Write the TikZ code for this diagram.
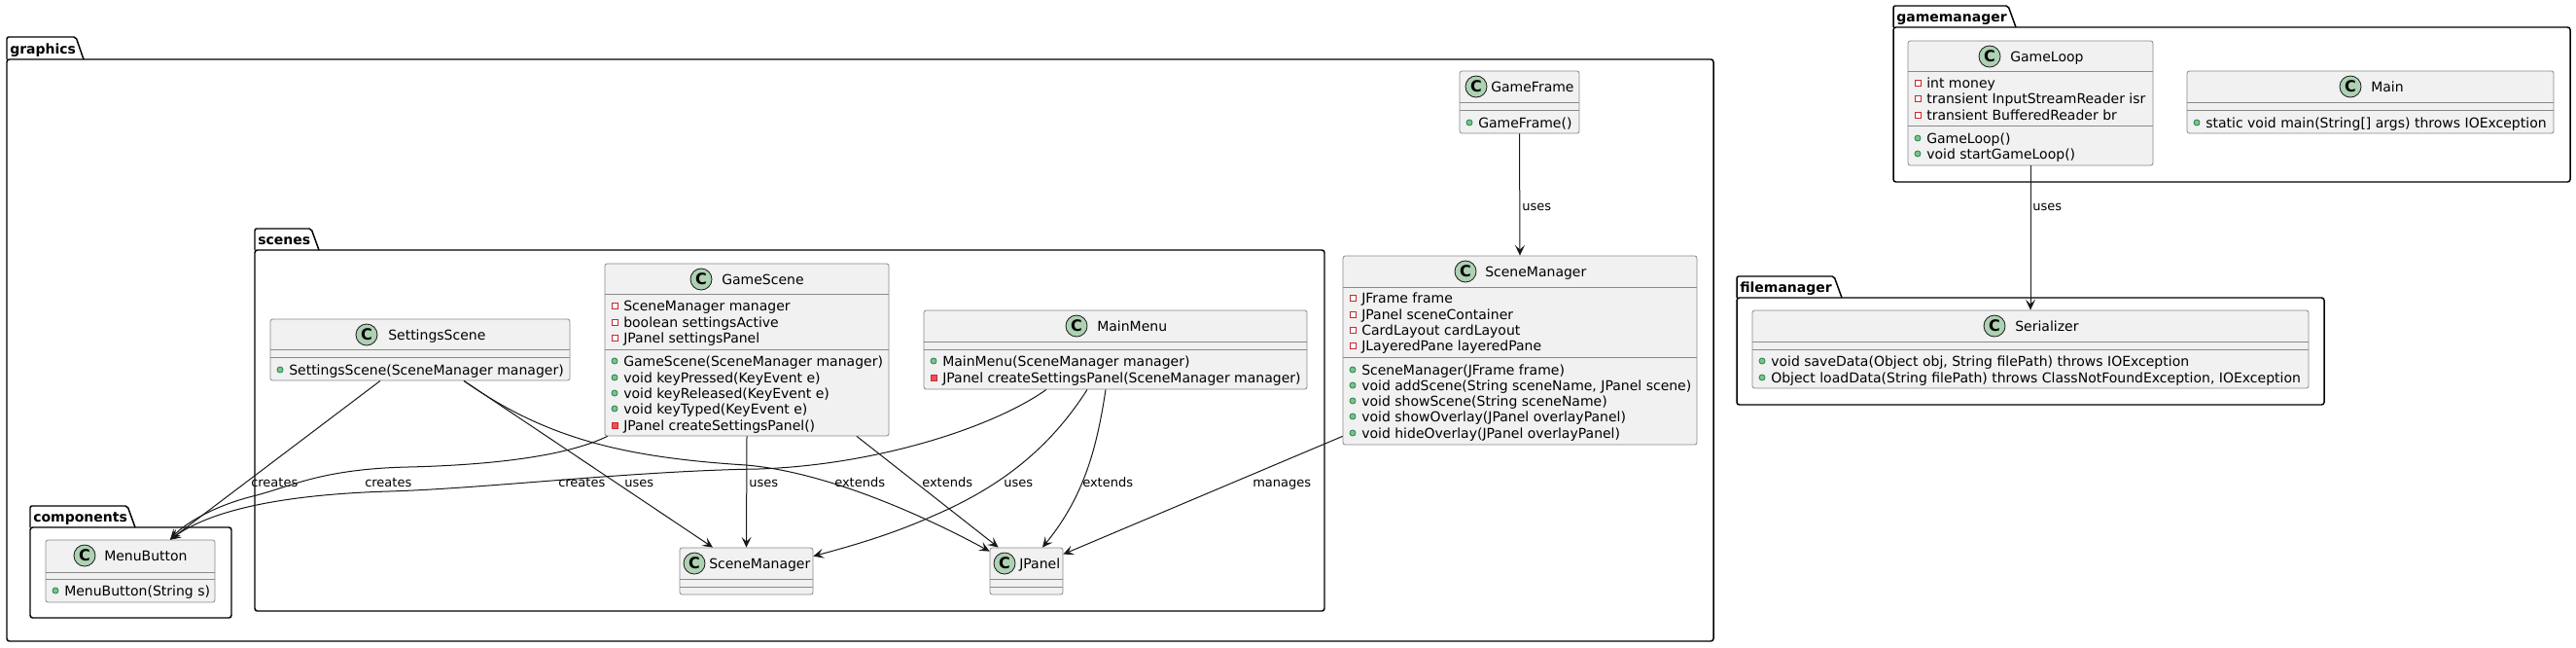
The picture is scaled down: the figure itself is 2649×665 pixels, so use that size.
\documentclass[tikz,border=0pt]{standalone}
\usepackage{fontspec}
\setmainfont{DejaVu Sans}
\usetikzlibrary{arrows.meta,fit}

\definecolor{classfill}{HTML}{F1F1F1}
\definecolor{classline}{HTML}{8A8A8A}
\definecolor{iconfill}{HTML}{ADD1B2}
\definecolor{privline}{HTML}{C82930}
\definecolor{privfill}{HTML}{F24D5C}
\definecolor{publine}{HTML}{038048}
\definecolor{pubfill}{HTML}{84BE84}
\definecolor{edge}{HTML}{181818}

\tikzset{
  classbox/.style={draw=classline, fill=classfill, line width=0.6pt, rounded corners=1.8pt, inner sep=0pt},
  sep/.style={draw=classline, line width=0.6pt},
  cicon/.style={circle, draw=edge, fill=iconfill, line width=0.6pt, inner sep=0pt, minimum size=16.5pt,
    font=\fontsize{12}{12}\selectfont\bfseries},
  title/.style={anchor=base west, inner sep=0pt, font=\fontsize{10.5}{12}\selectfont},
  member/.style={anchor=base west, inner sep=0pt, font=\fontsize{10.5}{12}\selectfont},
  pkgline/.style={draw=black, line width=1.1pt},
  pkglabel/.style={anchor=base west, inner sep=0pt, font=\fontsize{10.5}{12}\selectfont\bfseries},
  dep/.style={draw=edge, line width=0.75pt, -{Stealth[length=8pt,width=7.5pt,inset=3.5pt]}},
  lbl/.style={anchor=base west, inner sep=0pt, font=\fontsize{9.75}{11}\selectfont}
}

% package: name, x0, tab top, tab right, body top, x1, y1
\newcommand{\pkg}[7]{%
  \draw[pkgline, rounded corners=1.5pt] (#2,#5) -- (#2,#3) -- (#4-8,#3) -- (#4,#5);
  \draw[pkgline, rounded corners=2pt] (#2,#5) rectangle (#6,#7);
  \node[pkglabel] (#1) at (#2+3,#5-6) {#1};}

% class: name, title, x0, y0, x1, y1, icon x, title x
\newcommand{\umlclass}[8]{%
  \node[classbox, fit={(#3,#4) (#5,#6)}] (#1) {};
  \node[cicon] (#1-c) at (#7,#4+16) {C};
  \node[title] (#1-t) at (#8,#4+21) {#2};}

% members: name, box left, line centre, text
\newcommand{\privfield}[4]{%
  \draw[privline, line width=0.6pt, fill=white] (#2+7,#3-3) rectangle (#2+13,#3+3);
  \node[member] (#1) at (#2+19,#3+5) {#4};}
\newcommand{\privmethod}[4]{%
  \draw[privline, line width=0.6pt, fill=privfill] (#2+7,#3-3) rectangle (#2+13,#3+3);
  \node[member] (#1) at (#2+19,#3+5) {#4};}
\newcommand{\pubmethod}[4]{%
  \filldraw[draw=publine, fill=pubfill, line width=0.5pt] (#2+10,#3) circle[radius=2.3pt];
  \node[member] (#1) at (#2+19,#3+5) {#4};}

\begin{document}
\begin{tikzpicture}[x=0.75pt, y=-0.75pt]
  \useasboundingbox[fill=white] (0,0) rectangle (2649,665);

  \pkg{graphics}{7}{38}{86}{61}{1762}{659}
  \pkg{scenes}{262}{235}{328}{257}{1362}{628}
  \pkg{components}{31}{520}{139}{542}{238}{635}
  \pkg{gamemanager}{1947}{6}{2073}{28}{2643}{187}
  \pkg{filemanager}{1786}{284}{1894}{306}{2390}{416}

  \umlclass{gameframe}{GameFrame}{1501}{73}{1624}{137}{1518}{1533}
  \draw[sep] (1501,105) -- (1624,105);
  \draw[sep] (1501,113) -- (1624,113);
  \pubmethod{gf-m1}{1501}{126}{GameFrame()}

  \umlclass{scenemanager}{SceneManager}{1381}{263}{1745}{457}{1507}{1527}
  \draw[sep] (1381,295) -- (1745,295);
  \draw[sep] (1381,367) -- (1745,367);
  \privfield{sm-f1}{1381}{306}{JFrame frame}
  \privfield{sm-f2}{1381}{323}{JPanel sceneContainer}
  \privfield{sm-f3}{1381}{339}{CardLayout cardLayout}
  \privfield{sm-f4}{1381}{355}{JLayeredPane layeredPane}
  \pubmethod{sm-m1}{1381}{380}{SceneManager(JFrame frame)}
  \pubmethod{sm-m2}{1381}{396}{void addScene(String sceneName, JPanel scene)}
  \pubmethod{sm-m3}{1381}{412}{void showScene(String sceneName)}
  \pubmethod{sm-m4}{1381}{428}{void showOverlay(JPanel overlayPanel)}
  \pubmethod{sm-m5}{1381}{445}{void hideOverlay(JPanel overlayPanel)}

  \umlclass{settingsscene}{SettingsScene}{278}{328}{586}{391}{377}{399}
  \draw[sep] (278,359) -- (586,359);
  \draw[sep] (278,367) -- (586,367);
  \pubmethod{ss-m1}{278}{380}{SettingsScene(SceneManager manager)}

  \umlclass{gamescene}{GameScene}{622}{271}{914}{448}{721}{742}
  \draw[sep] (622,302) -- (914,302);
  \draw[sep] (622,359) -- (914,359);
  \privfield{gs-f1}{622}{314}{SceneManager manager}
  \privfield{gs-f2}{622}{331}{boolean settingsActive}
  \privfield{gs-f3}{622}{347}{JPanel settingsPanel}
  \pubmethod{gs-m1}{622}{371}{GameScene(SceneManager manager)}
  \pubmethod{gs-m2}{622}{388}{void keyPressed(KeyEvent e)}
  \pubmethod{gs-m3}{622}{404}{void keyReleased(KeyEvent e)}
  \pubmethod{gs-m4}{622}{420}{void keyTyped(KeyEvent e)}
  \privmethod{gs-m5}{622}{437}{JPanel createSettingsPanel()}

  \umlclass{mainmenu}{MainMenu}{950}{319}{1344}{400}{1107}{1128}
  \draw[sep] (950,351) -- (1344,351);
  \draw[sep] (950,359) -- (1344,359);
  \pubmethod{mm-m1}{950}{371}{MainMenu(SceneManager manager)}
  \privmethod{mm-m2}{950}{388}{JPanel createSettingsPanel(SceneManager manager)}

  \umlclass{menubutton}{MenuButton}{47}{555}{221}{619}{87}{107}
  \draw[sep] (47,588) -- (221,588);
  \draw[sep] (47,595) -- (221,595);
  \pubmethod{mb-m1}{47}{607}{MenuButton(String s)}

  \umlclass{scenemanagerref}{SceneManager}{699}{563}{836}{611}{714}{729}
  \draw[sep] (699,595) -- (836,595);
  \draw[sep] (699,603) -- (836,603);

  \umlclass{jpanel}{JPanel}{1018}{563}{1093}{611}{1033}{1048}
  \draw[sep] (1018,595) -- (1093,595);
  \draw[sep] (1018,603) -- (1093,603);

  \umlclass{gameloop}{GameLoop}{1962}{42}{2214}{170}{2046}{2067}
  \draw[sep] (1962,73) -- (2214,73);
  \draw[sep] (1962,129) -- (2214,129);
  \privfield{gl-f1}{1962}{85}{int money}
  \privfield{gl-f2}{1962}{101}{transient InputStreamReader isr}
  \privfield{gl-f3}{1962}{118}{transient BufferedReader br}
  \pubmethod{gl-m1}{1962}{142}{GameLoop()}
  \pubmethod{gl-m2}{1962}{158}{void startGameLoop()}

  \umlclass{main}{Main}{2249}{73}{2626}{137}{2417}{2438}
  \draw[sep] (2249,105) -- (2626,105);
  \draw[sep] (2249,113) -- (2626,113);
  \pubmethod{mn-m1}{2249}{126}{static void main(String[] args) throws IOException}

  \umlclass{serializer}{Serializer}{1802}{319}{2374}{399}{2051}{2072}
  \draw[sep] (1802,351) -- (2374,351);
  \draw[sep] (1802,359) -- (2374,359);
  \pubmethod{sr-m1}{1802}{371}{void saveData(Object obj, String filePath) throws IOException}
  \pubmethod{sr-m2}{1802}{388}{Object loadData(String filePath) throws ClassNotFoundException, IOException}

  \draw[dep] (gameframe.south) -- (scenemanager.north);
  \node[lbl] (l-gf) at (1565,216) {uses};
  \draw[dep] ([shift={(0,-9)}]scenemanager.south west) -- ([shift={(0,7)}]jpanel.north east);
  \node[lbl] (l-sm) at (1288,500) {manages};
  \draw[dep] (gameloop.south) -- (serializer.north);
  \node[lbl] (l-gl) at (2090,216) {uses};

  \draw[dep] ([shift={(-41,0)}]settingsscene.south) -- ([shift={(41,0)}]menubutton.north);
  \node[lbl] (l-ss1) at (258,500) {creates};
  \draw[dep] ([shift={(45,0)}]settingsscene.south) -- ([shift={(-34.5,0)}]scenemanagerref.north);
  \node[lbl] (l-ss2) at (642,500) {uses};
  \draw[dep] ([shift={(45,0)}]settingsscene.south) .. controls (560,450) and (640,470) .. (767,478)
    .. controls (850,485) and (950,530) .. ([shift={(0,4)}]jpanel.north west);
  \node[lbl] (l-ss3) at (858,500) {extends};

  \draw[dep] ([shift={(3,0)}]gamescene.south west) .. controls (580,470) and (500,478) .. (420,480)
    .. controls (330,482) and (300,500) .. (260,510) .. controls (220,520) and (190,538) .. ([shift={(41,0)}]menubutton.north);
  \node[lbl] (l-gs1) at (375,500) {creates};
  \draw[dep] (gamescene.south) -- (scenemanagerref.north);
  \node[lbl] (l-gs2) at (770,500) {uses};
  \draw[dep] ([shift={(113,0)}]gamescene.south) -- ([shift={(9,0)}]jpanel.north west);
  \node[lbl] (l-gs3) at (948,500) {extends};

  \draw[dep] ([shift={(-71,0)}]mainmenu.south) .. controls (1020,440) and (900,478) .. (780,482)
    .. controls (650,484) and (500,502) .. (400,505) .. controls (300,508) and (220,522) .. ([shift={(41,0)}]menubutton.north);
  \node[lbl] (l-mm1) at (574,500) {creates};
  \draw[dep] ([shift={(-29,0)}]mainmenu.south) .. controls (1080,460) and (1030,500) .. (960,530)
    .. controls (920,548) and (880,560) .. ([shift={(0,9)}]scenemanagerref.north east);
  \node[lbl] (l-mm2) at (1032,500) {uses};
  \draw[dep] ([shift={(-10,0)}]mainmenu.south) .. controls (1128,460) and (1115,510) .. ([shift={(16.5,0)}]jpanel.north);
  \node[lbl] (l-mm3) at (1113,500) {extends};
\end{tikzpicture}
\end{document}
